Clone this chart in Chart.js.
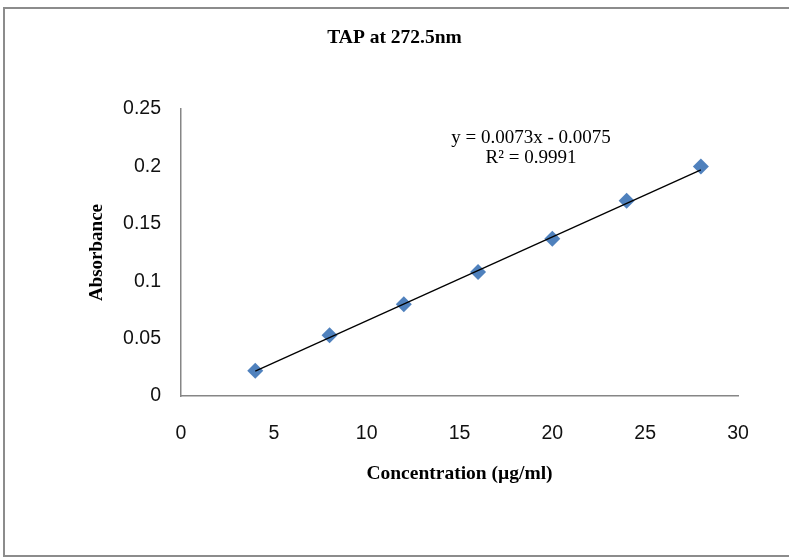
<!DOCTYPE html>
<html>
<head>
<meta charset="utf-8">
<script src="https://cdn.jsdelivr.net/npm/chart.js@4"></script>
<style>
    body { margin: 0; background: #fff; }
    canvas { display: block; }
</style>
</head>
<body>
<canvas id="tapChart" width="789" height="558"></canvas>
<script>
var concentration = [4, 8, 12, 16, 20, 24, 28]
var absorbance = [0.022, 0.053, 0.080, 0.108, 0.137, 0.170, 0.200]

var trendX = [4, 28]
var trendY = [0.0217, 0.1969]

var equationLines = ["y = 0.0073x - 0.0075", "R\u00b2 = 0.9991"]

var xMin = 0, xMax = 30, xStep = 5
var yMin = 0, yMax = 0.25, yStep = 0.05

tapChart()

function toPoints(xs, ys){
    var points = new Array()
    for (var i = 0; i < xs.length; i++){
        points.push({x: xs[i], y: ys[i]})
    }
    return points
}

function tapChart(){
    var canvas = document.querySelector("#tapChart")

    var frameAndEquation = {
        id: "frameAndEquation",
        beforeDraw: function(chart){
            var ctx = chart.ctx
            ctx.save()
            ctx.fillStyle = "#fff"
            ctx.fillRect(0, 0, chart.width, chart.height)
            ctx.strokeStyle = "#8c8c8c"
            ctx.lineWidth = 2
            ctx.strokeRect(4, 8, 820, 548)
            ctx.restore()
        },
        afterDraw: function(chart){
            var ctx = chart.ctx
            ctx.save()
            ctx.fillStyle = "#000"
            ctx.font = "19px 'Liberation Serif'"
            ctx.textAlign = "center"
            ctx.textBaseline = "middle"
            ctx.fillText(equationLines[0], 531, 138)
            ctx.fillText(equationLines[1], 531, 158)
            ctx.restore()
        }
    }

    var pointData = {
        label: "Absorbance",
        data: toPoints(concentration, absorbance),
        pointStyle: "rectRot",
        pointRadius: 8,
        pointHoverRadius: 8,
        backgroundColor: "#4f81bd",
        borderColor: "#4f81bd",
        borderWidth: 0,
        order: 1
    }

    var trendData = {
        label: "Linear trend",
        data: toPoints(trendX, trendY),
        showLine: true,
        borderColor: "#000",
        borderWidth: 1.3,
        pointRadius: 0,
        order: 0
    }

    new Chart(canvas, {
        type: "scatter",
        data: {
            datasets: [pointData, trendData]
        },
        plugins: [frameAndEquation],
        options: {
            responsive: false,
            animation: false,
            events: [],
            layout: {
                padding: {top: 0, left: 51, right: 51, bottom: 10}
            },
            plugins: {
                legend: {display: false},
                tooltip: {enabled: false},
                title: {
                    display: true,
                    text: "TAP at 272.5nm",
                    color: "#000",
                    font: {family: "'Liberation Serif'", size: 19.5, weight: "bold"},
                    padding: {top: 26.3, bottom: 59.3}
                }
            },
            scales: {
                x: {
                    type: "linear",
                    min: xMin,
                    max: xMax,
                    afterFit: function(scale){ scale.height = 152 },
                    ticks: {
                        stepSize: xStep,
                        padding: 26,
                        color: "#111",
                        font: {family: "'Liberation Sans'", size: 19.5}
                    },
                    grid: {display: false, drawTicks: false},
                    border: {display: true, color: "#868686", width: 1.5},
                    title: {
                        display: true,
                        text: "Concentration (\u00b5g/ml)",
                        color: "#000",
                        font: {family: "'Liberation Serif'", size: 19.5, weight: "bold"},
                        padding: {top: 0, bottom: 62.3}
                    }
                },
                y: {
                    type: "linear",
                    min: yMin,
                    max: yMax,
                    afterFit: function(scale){ scale.width = 130 },
                    ticks: {
                        stepSize: yStep,
                        padding: 20,
                        color: "#111",
                        font: {family: "'Liberation Sans'", size: 19.5},
                        callback: function(value){ return +value.toFixed(2) }
                    },
                    grid: {display: false, drawTicks: false},
                    border: {display: true, color: "#868686", width: 1.5},
                    title: {
                        display: true,
                        text: "Absorbance",
                        color: "#000",
                        font: {family: "'Liberation Serif'", size: 19, weight: "bold"},
                        padding: {top: 34.5, bottom: 0}
                    }
                }
            }
        }
    })
}
</script>
</body>
</html>
